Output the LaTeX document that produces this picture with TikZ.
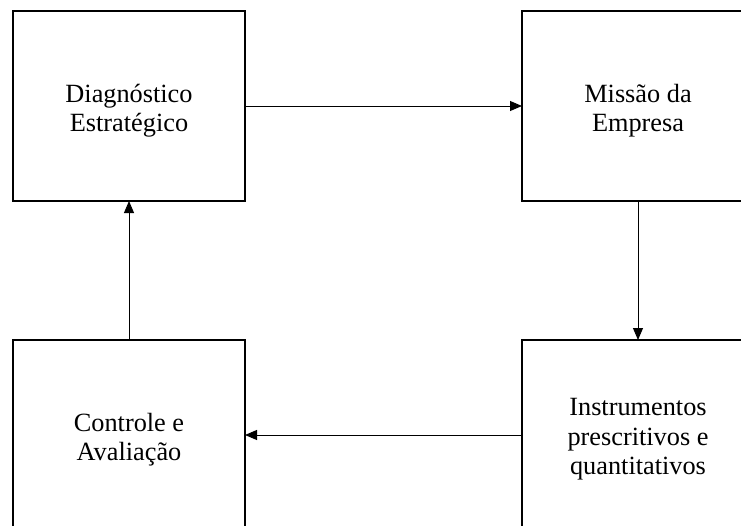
\documentclass[tikz,border=0pt]{standalone}
\usepackage{fontspec}
\setmainfont{Liberation Serif}
\usetikzlibrary{arrows.meta}
\begin{document}
\begin{tikzpicture}[x=1pt,y=-1pt,
  box/.style={draw=black,line width=1.8pt,minimum width=232pt,minimum height=190pt,inner sep=0pt,outer sep=0pt},
  boxtext/.style={align=center,inner sep=0pt,yshift=-4.5pt,font=\fontsize{26.3pt}{29.5pt}\selectfont},
  conn/.style={line width=0.9pt,-{Triangle[length=12pt,width=10pt]}}]
\useasboundingbox (0,0) rectangle (741,525);
\clip (0,0) rectangle (741,525);
\node[box,label={[boxtext]center:{Diagnóstico\\Estratégico}}] (diag) at (129,106) {};
\node[box,label={[boxtext]center:{Missão da\\Empresa}}] (miss) at (638,106) {};
\node[box,label={[boxtext]center:{Instrumentos\\prescritivos e\\quantitativos}}] (inst) at (638,435) {};
\node[box,label={[boxtext]center:{Controle e\\Avaliação}}] (ctrl) at (129,435) {};
\draw[conn] (diag.east) -- (miss.west);
\draw[conn] (miss.south) -- (inst.north);
\draw[conn] (inst.west) -- (ctrl.east);
\draw[conn] (ctrl.north) -- (diag.south);
\end{tikzpicture}
\end{document}
